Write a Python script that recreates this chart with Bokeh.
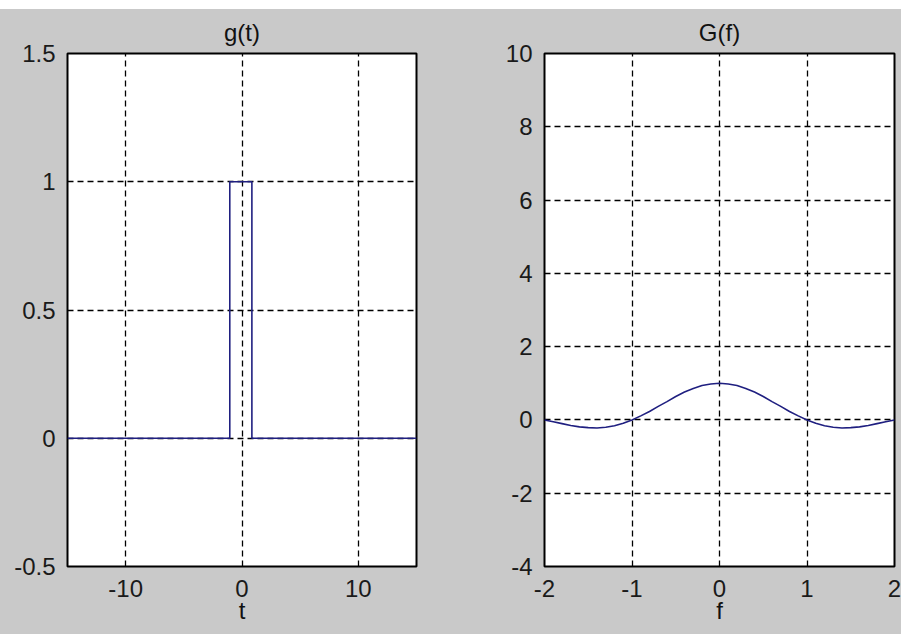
from bokeh.plotting import figure
from bokeh.layouts import row, column
from bokeh.models import Spacer, Range1d, FixedTicker
from bokeh.embed import file_html
from bokeh.resources import INLINE

# ---- data: g(t) rectangular pulse ----
t_vals = [-15, -1.05, -1.05, 0.85, 0.85, 15]
g_vals = [0, 0, 1, 1, 0, 0]
g_xticks = [-10, 0, 10]
g_xtick_labels = ["-10", "0", "10"]
g_yticks = [-0.5, 0, 0.5, 1, 1.5]
g_ytick_labels = ["-0.5", "0", "0.5", "1", "1.5"]

# ---- data: G(f) spectrum ----
f_vals = [-2.0, -1.9, -1.8, -1.7, -1.6, -1.5, -1.4, -1.3, -1.2, -1.1, -1.0,
          -0.9, -0.8, -0.7, -0.6, -0.5, -0.4, -0.3, -0.2, -0.1, 0.0,
          0.1, 0.2, 0.3, 0.4, 0.5, 0.6, 0.7, 0.8, 0.9, 1.0,
          1.1, 1.2, 1.3, 1.4, 1.5, 1.6, 1.7, 1.8, 1.9, 2.0]
G_vals = [0.0, -0.05, -0.10, -0.15, -0.19, -0.21, -0.22, -0.20, -0.16, -0.09, 0.0,
          0.11, 0.23, 0.37, 0.50, 0.64, 0.76, 0.86, 0.94, 0.98, 1.0,
          0.98, 0.94, 0.86, 0.76, 0.64, 0.50, 0.37, 0.23, 0.11, 0.0,
          -0.09, -0.16, -0.20, -0.22, -0.21, -0.19, -0.15, -0.10, -0.05, 0.0]
G_xticks = [-2, -1, 0, 1, 2]
G_xtick_labels = ["-2", "-1", "0", "1", "2"]
G_yticks = [-4, -2, 0, 2, 4, 6, 8, 10]
G_ytick_labels = ["-4", "-2", "0", "2", "4", "6", "8", "10"]

BG = "#c9c9c9"
LINE = "#1f1f80"
FONT = "Liberation Sans"
FS = "24px"


def make_fig(title, xr, yr, xt, xl, yt, yl, xlabel, width, bl, br):
    p = figure(width=width, height=625, output_backend="svg", toolbar_location=None,
               x_range=Range1d(*xr), y_range=Range1d(*yr),
               min_border_left=bl, min_border_right=br,
               min_border_top=44, min_border_bottom=68)
    p.border_fill_color = BG
    p.background_fill_color = "white"
    p.outline_line_color = "black"
    p.outline_line_width = 2
    p.title.text = title
    p.title.align = "center"
    p.title.text_font = FONT
    p.title.text_font_size = FS
    p.title.text_font_style = "normal"
    p.title.text_color = "#111111"
    p.title.standoff = 15
    for ax, ticks, labels in ((p.xaxis, xt, xl), (p.yaxis, yt, yl)):
        ax.ticker = FixedTicker(ticks=ticks)
        ax.major_label_overrides = dict(zip(ticks, labels))
        ax.major_label_text_font = FONT
        ax.major_label_text_font_size = FS
        ax.major_label_text_color = "#1a1a1a"
        ax.axis_line_color = None
        ax.major_tick_line_color = None
        ax.minor_tick_line_color = None
        ax.major_tick_out = 0
        ax.major_tick_in = 0
    p.xaxis.major_label_standoff = 13
    p.yaxis.major_label_standoff = 12
    p.xaxis.axis_label = xlabel
    p.xaxis.axis_label_text_font = FONT
    p.xaxis.axis_label_text_font_size = FS
    p.xaxis.axis_label_text_font_style = "normal"
    p.xaxis.axis_label_text_color = "#111111"
    p.xaxis.axis_label_standoff = -3
    p.xaxis.axis_label_text_baseline = "middle"
    for g in (p.xgrid, p.ygrid):
        g.grid_line_color = "black"
        g.grid_line_dash = "6 4"
        g.grid_line_width = 1.3
        g.grid_line_alpha = 1.0
    return p


p1 = make_fig("g(t)", (-15, 15), (-0.5, 1.5), g_xticks, g_xtick_labels,
              g_yticks, g_ytick_labels, "t", 472, 59, 64)
p1.line(t_vals, g_vals, line_color=LINE, line_width=1.6)

p2 = make_fig("G(f)", (-2, 2), (-4, 10), G_xticks, G_xtick_labels,
              G_yticks, G_ytick_labels, "f", 421, 64, 7)
p2.line(f_vals, G_vals, line_color=LINE, line_width=1.6)

layout = column(Spacer(height=9),
                row(Spacer(width=8), p1, p2, styles={"background-color": BG}))

open("out.html", "w").write(file_html(layout, INLINE))
